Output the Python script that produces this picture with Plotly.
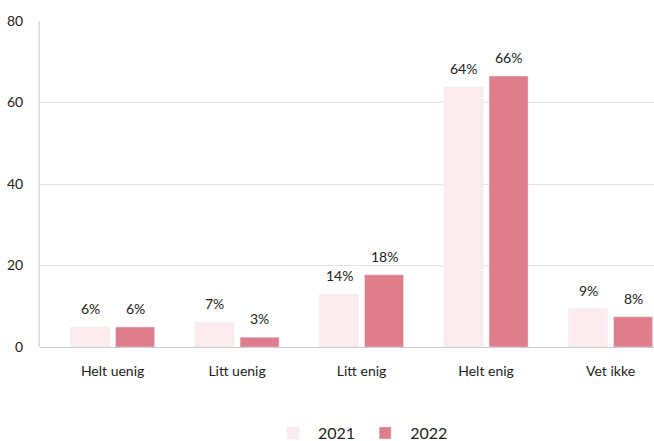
import plotly.graph_objects as go

categories = ["Helt uenig", "Litt uenig", "Litt enig", "Helt enig", "Vet ikke"]
values_2021 = [4.9, 6.1, 13.0, 63.8, 9.4]
values_2022 = [4.9, 2.4, 17.7, 66.5, 7.4]
labels_2021 = ["6%", "7%", "14%", "64%", "9%"]
labels_2022 = ["6%", "3%", "18%", "66%", "8%"]
series_names = ["2021", "2022"]
y_ticks = [0, 20, 40, 60, 80]

FONT = "Lato, 'Noto Sans', sans-serif"
C2021 = "#fcebee"
C2022 = "#de7d8c"

idx = list(range(len(categories)))
fig = go.Figure()
fig.add_trace(go.Bar(x=idx, y=values_2021, name=series_names[0], marker_color=C2021,
                     hoverinfo="y"))
fig.add_trace(go.Bar(x=idx, y=values_2022, name=series_names[1], marker_color=C2022,
                     hoverinfo="y"))

off = 0.1807
for i in idx:
    for sgn, vals, labs in ((-1, values_2021, labels_2021), (1, values_2022, labels_2022)):
        fig.add_annotation(x=i + sgn * off, y=vals[i], text=labs[i], showarrow=False,
                           yanchor="bottom", yshift=8,
                           font=dict(family=FONT, size=14, color="#222"))

fig.update_layout(
    width=654, height=441,
    margin=dict(l=40, r=0, t=21, b=94, autoexpand=False),
    paper_bgcolor="white", plot_bgcolor="white",
    barmode="group", bargap=0.277, bargroupgap=0.133,
    font=dict(family=FONT, size=13, color="#222"),
    legend=dict(orientation="h", x=0.522, xanchor="center", y=-0.264, yanchor="middle",
                font=dict(family=FONT, size=16, color="#222"), itemwidth=40,
                traceorder="normal"),
    xaxis=dict(range=[-0.583, 4.349], tickmode="array", tickvals=idx, ticktext=categories,
               showgrid=False, zeroline=False, showline=False, ticks="", automargin=False,
               tickfont=dict(family=FONT, size=14, color="#222"), ticklabelstandoff=14),
    yaxis=dict(range=[0, 80], tickmode="array", tickvals=y_ticks, showgrid=True,
               gridcolor="#e3e3e3", gridwidth=1, zeroline=True, zerolinecolor="#cccccc",
               zerolinewidth=1, showline=True, linecolor="#e3e3e3", linewidth=2,
               ticks="", automargin=False, tickfont=dict(family=FONT, size=14, color="#222"),
               ticklabelstandoff=12),
)

fig.write_html("out.html", config={"displayModeBar": False},
               post_script="document.body.style.margin='0';document.body.style.overflow='hidden';")
